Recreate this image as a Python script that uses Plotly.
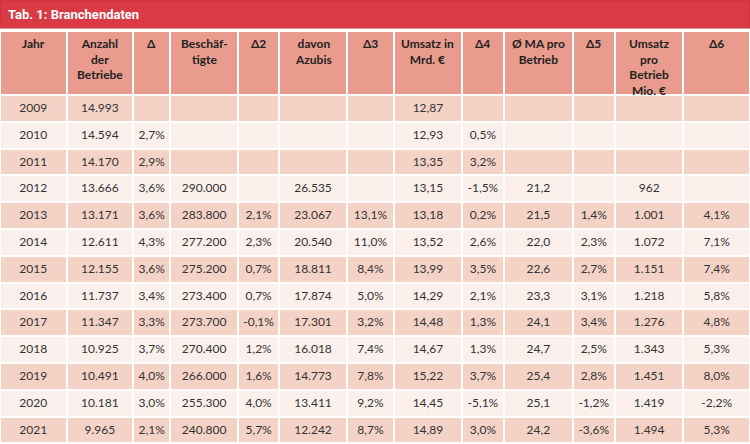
import plotly.graph_objects as go

# ---- data ----
headers = ["Jahr", "Anzahl<br>der<br>Betriebe", "Δ", "Beschäf-<br>tigte", "Δ2", "davon<br>Azubis", "Δ3",
           "Umsatz in<br>Mrd. €", "Δ4", "Ø MA pro<br>Betrieb", "Δ5", "Umsatz<br>pro<br>Betrieb<br>Mio. €", "Δ6"]
jahr = [2009, 2010, 2011, 2012, 2013, 2014, 2015, 2016, 2017, 2018, 2019, 2020, 2021]
betriebe = [14993, 14594, 14170, 13666, 13171, 12611, 12155, 11737, 11347, 10925, 10491, 10181, 9965]
d1 = [None, 2.7, 2.9, 3.6, 3.6, 4.3, 3.6, 3.4, 3.3, 3.7, 4.0, 3.0, 2.1]
beschaeftigte = [None, None, None, 290000, 283800, 277200, 275200, 273400, 273700, 270400, 266000, 255300, 240800]
d2 = [None, None, None, None, 2.1, 2.3, 0.7, 0.7, -0.1, 1.2, 1.6, 4.0, 5.7]
azubis = [None, None, None, 26535, 23067, 20540, 18811, 17874, 17301, 16018, 14773, 13411, 12242]
d3 = [None, None, None, None, 13.1, 11.0, 8.4, 5.0, 3.2, 7.4, 7.8, 9.2, 8.7]
umsatz = [12.87, 12.93, 13.35, 13.15, 13.18, 13.52, 13.99, 14.29, 14.48, 14.67, 15.22, 14.45, 14.89]
d4 = [None, 0.5, 3.2, -1.5, 0.2, 2.6, 3.5, 2.1, 1.3, 1.3, 3.7, -5.1, 3.0]
ma = [None, None, None, 21.2, 21.5, 22.0, 22.6, 23.3, 24.1, 24.7, 25.4, 25.1, 24.2]
d5 = [None, None, None, None, 1.4, 2.3, 2.7, 3.1, 3.4, 2.5, 2.8, -1.2, -3.6]
umsatz_betrieb = [None, None, None, 962, 1001, 1072, 1151, 1218, 1276, 1343, 1451, 1419, 1494]
d6 = [None, None, None, None, 4.1, 7.1, 7.4, 5.8, 4.8, 5.3, 8.0, -2.2, 5.3]


def fmt_int(v):
    return "" if v is None else f"{v:,}".replace(",", ".")


def fmt_dec(v, n):
    return "" if v is None else f"{v:.{n}f}".replace(".", ",")


def fmt_pct(v):
    return "" if v is None else f"{v:.1f}%".replace(".", ",")


columns = [
    [str(j) for j in jahr],
    [fmt_int(v) for v in betriebe],
    [fmt_pct(v) for v in d1],
    [fmt_int(v) for v in beschaeftigte],
    [fmt_pct(v) for v in d2],
    [fmt_int(v) for v in azubis],
    [fmt_pct(v) for v in d3],
    [fmt_dec(v, 2) for v in umsatz],
    [fmt_pct(v) for v in d4],
    [fmt_dec(v, 1) for v in ma],
    [fmt_pct(v) for v in d5],
    [fmt_int(v) for v in umsatz_betrieb],
    [fmt_pct(v) for v in d6],
]

W, H = 750, 444
title_h = 28
table_top = 31
header_h = 64
colw = [66, 66, 37, 67, 41, 67, 47, 67, 42, 68, 42, 68, 66]

odd = "#f5d2c6"
even = "#fcf0ec"
row_colors = [odd if i % 2 == 0 else even for i in range(len(jahr))]

fig = go.Figure(go.Table(
    domain=dict(x=[0, 1], y=[0, (H - table_top) / H]),
    columnwidth=colw,
    header=dict(
        values=["" for _ in headers],
        fill_color="#e99c8d",
        line=dict(color="white", width=2),
        align="center",
        height=header_h,
        font=dict(family="Lato, sans-serif", size=12, color="#222222"),
    ),
    cells=dict(
        values=columns,
        fill_color=[row_colors] * len(columns),
        line=dict(color="white", width=2),
        align="center",
        height=26.8,
        font=dict(family="Lato, sans-serif", size=12, color="#333333"),
    ),
))

# header texts (centered multi-line)
total = sum(colw)
acc = 0
for h, w in zip(headers, colw):
    cx = (acc + w / 2) / total
    acc += w
    fig.add_annotation(xref="paper", yref="paper", x=cx, y=1 - (table_top + 3) / H,
                       xanchor="center", yanchor="top", align="center", showarrow=False,
                       text=f"<b>{h}</b>",
                       font=dict(family="Lato, sans-serif", size=12, color="#222222"))

fig.add_shape(type="rect", xref="paper", yref="paper",
              x0=0, x1=1, y0=(H - title_h) / H, y1=1,
              fillcolor="#d93a43", line=dict(color="#c3303a", width=1))
fig.add_annotation(xref="paper", yref="paper", x=6 / W, y=1 - (title_h / 2) / H,
                   xanchor="left", yanchor="middle", showarrow=False,
                   text="<b>Tab. 1: Branchendaten</b>",
                   font=dict(family="Roboto, sans-serif", size=13, color="white"))

fig.update_layout(width=W, height=H, margin=dict(l=0, r=0, t=0, b=0),
                  paper_bgcolor="white", plot_bgcolor="white")

fig.write_html("out.html", config={"displayModeBar": False},
               post_script="document.body.style.margin='0';document.body.style.overflow='hidden';")
